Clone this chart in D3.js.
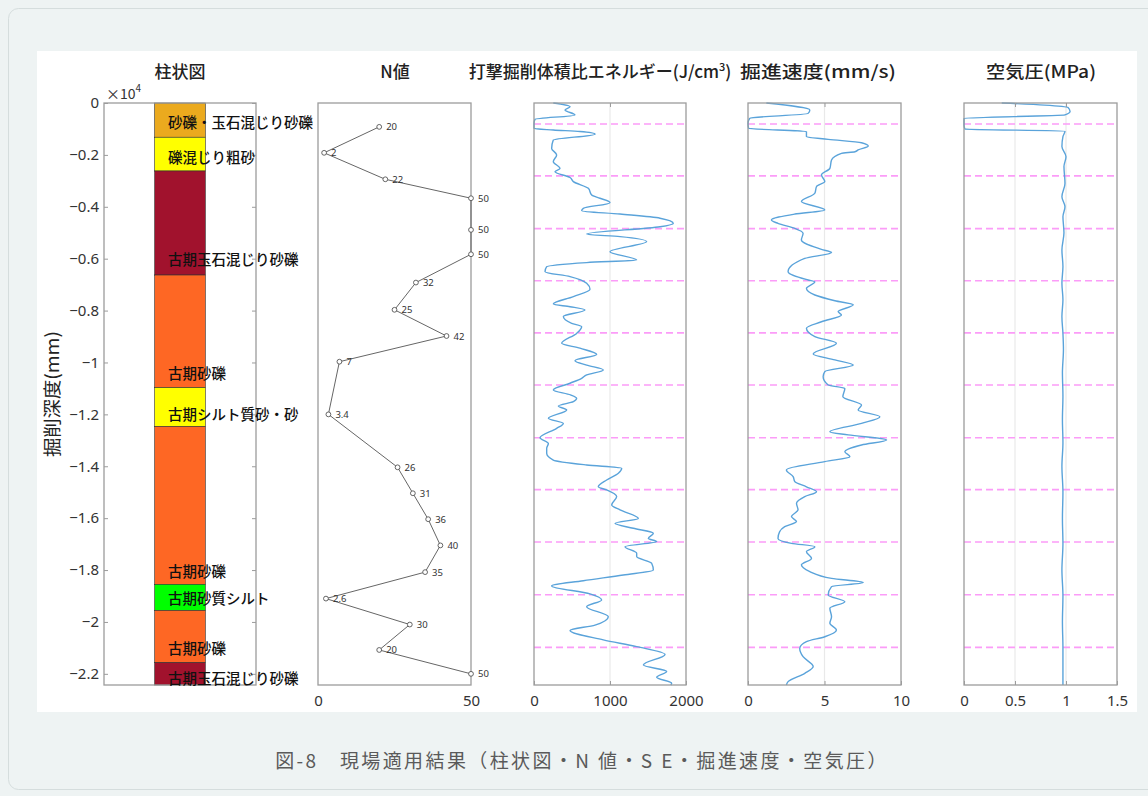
<!DOCTYPE html>
<html>
<head>
<meta charset="utf-8">
<script src="https://cdn.jsdelivr.net/npm/d3@7"></script>
<style>
    body { margin: 0; background: #eef3f3; }
    svg text { font-family: "Noto Sans CJK JP", "Noto Sans", sans-serif; }
</style>
</head>
<body>
<svg id="chart" width="1148" height="796"></svg>
<script>
// depth axis (mm, negative downward)
const depthMin = -22430;
const depthTicks = [0, -2000, -4000, -6000, -8000, -10000, -12000, -14000, -16000, -18000, -20000, -22000];

// 柱状図 layers
const layerNames = ['砂礫・玉石混じり砂礫', '礫混じり粗砂', '古期玉石混じり砂礫', '古期砂礫', '古期シルト質砂・砂',
    '古期砂礫', '古期砂質シルト', '古期砂礫', '古期玉石混じり砂礫'];
const layerBottoms = [-1320, -2620, -6630, -10970, -12470, -18550, -19560, -21570, -22430];
const layerColors = ['#ebaa1e', '#ffff00', '#a1122d', '#fe6724', '#ffff00', '#fe6724', '#00ff00', '#fe6724', '#a1122d'];
const layerLabelDepths = [-720, -2070, -6010, -10400, -11950, -18000, -19040, -21000, -22160];

// N値
const nDepth = [-920, -1920, -2940, -3670, -4890, -5830, -6920, -7970, -8980, -9970,
    -12000, -14040, -15040, -16040, -17050, -18080, -19100, -20100, -21080, -22000];
const nValue = [20, 2, 22, 50, 50, 50, 32, 25, 42, 7, 3.4, 26, 31, 36, 40, 35, 2.6, 30, 20, 50];
const nLabels = ['20', '2', '22', '50', '50', '50', '32', '25', '42', '7', '3.4', '26', '31', '36', '40', '35', '2.6', '30', '20', '50'];

// 打撃掘削体積比エネルギー (J/cm3)
const seDepth = [0, -140, -270, -460, -630, -780, -980, -1040, -1100, -1200, -1430, -1750, -2000, -2260, -2520,
    -2650, -2870, -3030, -3290, -3550, -3670, -3840, -4060, -4150, -4280, -4440, -4640, -4770, -5050, -5150,
    -5340, -5730, -6050, -6150, -6310, -6500, -6690, -6950, -7180, -7460, -7750, -7850, -7980, -8230, -8490,
    -8620, -8880, -9260, -9450, -9690, -9930, -10100, -10290, -10480, -10610, -10800, -11060, -11250, -11380,
    -11510, -11680, -11830, -12150, -12350, -12540, -12900, -13120, -13310, -13500, -13760, -13950, -14080,
    -14270, -14530, -14790, -14910, -15170, -15490, -15680, -16010, -16200, -16390, -16580, -16780, -16900,
    -17100, -17350, -17480, -17740, -18000, -18190, -18410, -18610, -18920, -19150, -19410, -19800, -20120,
    -20330, -20690, -20950, -21250, -21660, -21910, -22130, -22360, -22430];
const seValue = [254, 474, 408, 539, 13, 0, 0, 254, 605, 803, 254, 232, 298, 254, 342,
    276, 474, 518, 715, 759, 868, 1000, 649, 627, 1132, 1658, 1833, 1658, 693, 1132,
    1482, 1000, 1351, 693, 167, 145, 474, 693, 737, 518, 254, 474, 671, 386, 496,
    627, 561, 364, 605, 825, 539, 693, 912, 693, 627, 474, 254, 480, 561,
    518, 320, 430, 189, 386, 298, 79, 189, 167, 167, 254, 693, 1154,
    1110, 956, 846, 956, 1088, 1022, 1132, 1373, 1066, 1307, 1570, 1504, 1614,
    1197, 1351, 1351, 1548, 1570, 1175, 649, 232, 737, 890, 693, 978, 803,
    474, 912, 1351, 1724, 1439, 1746, 1614, 1811, 1800];

// 掘進速度 (mm/s)
const spDepth = [0, -270, -400, -590, -780, -980, -1100, -1300, -1400, -1530, -1660, -1810, -1880, -1940, -2200,
    -2520, -2770, -3030, -3220, -3480, -3800, -4120, -4280, -4510, -4640, -4830, -5020, -5280, -5640, -5760,
    -5990, -6500, -6820, -6890, -7140, -7400, -7620, -7780, -8040, -8170, -8430, -8680, -9000, -9260, -9670,
    -9900, -10100, -10350, -10550, -10870, -11000, -11320, -11640, -11830, -12090, -12350, -12670, -12790,
    -12990, -13180, -13440, -13630, -13820, -14140, -14400, -14590, -14790, -14980, -15170, -15430, -15680,
    -15940, -16130, -16330, -16520, -16780, -16970, -17100, -17290, -17550, -17800, -18060, -18320, -18480,
    -18640, -18960, -19220, -19470, -19800, -20050, -20310, -20570, -20760, -21020, -21340, -21720, -21980,
    -22300, -22430];
const spValue = [1.2, 4.04, 3.93, 0.11, 0, 0.04, 3.82, 3.82, 5.24, 7.42, 7.86, 7.2, 6.99, 6.11, 5.46,
    5.35, 4.8, 5.02, 4.48, 4.37, 3.49, 5.02, 3.06, 1.53, 1.96, 3.06, 3.6, 3.49, 4.8, 5.46,
    3.71, 2.62, 3.93, 4.37, 3.82, 4.37, 5.68, 6.88, 5.89, 6.11, 4.8, 3.82, 4.37, 5.78, 4.26,
    5.68, 6.88, 5.02, 4.91, 5.24, 6.33, 6.2, 7.42, 7.2, 8.62, 7.42, 5.35, 6.55,
    9.06, 7.42, 6.33, 6.66, 5.02, 2.51, 2.95, 3.06, 3.82, 4.48, 3.71, 3.17, 3.27,
    2.84, 3.17, 2.4, 2.07, 1.96, 2.84, 4.37, 3.82, 4.15, 3.49, 4.04, 5.46, 7.53,
    5.46, 5.24, 6.33, 5.35, 5.46, 5.35, 5.78, 5.02, 3.82, 3.38, 3.6, 4.26, 3.71,
    2.62, 2.51];

// 空気圧 (MPa)
const apDepth = [0, -80, -170, -330, -460, -590, -850, -1010, -1080, -1300, -1680, -2070, -2450, -3100, -3610,
    -4000, -4380, -5000, -5670, -6300, -6950, -7580, -8230, -8880, -9500, -10400, -11300, -12200, -13100,
    -14000, -15000, -16000, -17000, -18000, -19000, -20000, -21000, -22000, -22430];
const apValue = [0.37, 0.79, 1.02, 1.04, 0.99, 0, 0, 0.01, 0.99, 0.97, 0.96, 1.0, 0.98, 0.99, 0.96,
    0.99, 0.97, 0.98, 0.96, 0.97, 0.96, 0.97, 0.96, 0.97, 0.975, 0.965, 0.97, 0.965, 0.97,
    0.96, 0.97, 0.965, 0.97, 0.96, 0.97, 0.965, 0.97, 0.97, 0.97];

// rod joints (magenta dashed)
const jointDepths = [-810, -2810, -4840, -6850, -8860, -10870, -12900, -14900, -16920, -18950, -20980];

const caption = '図-8　現場適用結果（柱状図・N 値・S E・掘進速度・空気圧）';

const svg = d3.select('#chart');
const plotTop = 103, plotBottom = 685;
const frameColor = '#9c9c9c';
const lineBlue = '#5aa3da';

// background card + white figure
svg.append('rect')
    .attr('x', 8.5).attr('y', 8.5).attr('width', 1160).attr('height', 781).attr('rx', 10)
    .attr('fill', '#eef3f3').attr('stroke', '#d5dddd');
svg.append('rect')
    .attr('x', 37).attr('y', 51).attr('width', 1100).attr('height', 661)
    .attr('fill', '#fff');

const y = d3.scaleLinear().domain([0, depthMin]).range([plotTop, plotBottom]);

function drawFrame(x0, x1) {
    svg.append('rect')
        .attr('x', x0).attr('y', plotTop).attr('width', x1 - x0).attr('height', plotBottom - plotTop)
        .attr('fill', 'none').attr('stroke', frameColor).attr('stroke-width', 1.3);
}

function title(text, cx, len) {
    const t = svg.append('text')
        .attr('x', cx).attr('y', 78)
        .attr('text-anchor', 'middle')
        .attr('font-size', 17).attr('font-weight', 500).attr('fill', '#222')
        .text(text);
    if (len) t.attr('textLength', len).attr('lengthAdjust', 'spacingAndGlyphs');
    return t;
}

function styleAxis(g) {
    g.select('.domain').remove();
    g.selectAll('line').attr('stroke', frameColor);
    g.selectAll('text').attr('font-size', 15).attr('fill', '#333')
        .style('font-family', '"Noto Sans", sans-serif');
}

// ---------- 柱状図 ----------
const xCol = d3.scaleLinear().domain([0, 3]).range([104, 256]);
const layerTops = [0].concat(layerBottoms.slice(0, -1));
svg.append('g').selectAll('rect')
    .data(layerNames)
    .enter()
    .append('rect')
    .attr('x', xCol(1))
    .attr('y', (d, i) => y(layerTops[i]))
    .attr('width', xCol(2) - xCol(1))
    .attr('height', (d, i) => y(layerBottoms[i]) - y(layerTops[i]))
    .attr('fill', (d, i) => layerColors[i])
    .attr('stroke', '#333')
    .attr('stroke-width', 0.6);
drawFrame(104, 256);

const fmtDepth = d3.format('.1~f');
svg.append('g')
    .attr('transform', 'translate(104,0)')
    .call(d3.axisLeft(y).tickValues(depthTicks).tickSize(-4).tickPadding(5)
        .tickFormat(d => d === 0 ? '0' : fmtDepth(d / 1e4)))
    .call(styleAxis);
svg.append('g')
    .attr('transform', 'translate(256,0)')
    .call(d3.axisRight(y).tickValues(depthTicks).tickSize(-4).tickFormat(''))
    .call(styleAxis);

const xLabel = svg.append('text')
    .attr('x', 106).attr('y', 99)
    .attr('font-size', 14).attr('fill', '#333');
xLabel.append('tspan').text('×10');
xLabel.append('tspan').attr('font-size', 10).attr('dy', -7).text('4');

svg.append('text')
    .attr('transform', 'translate(59,394) rotate(-90)')
    .attr('text-anchor', 'middle')
    .attr('font-size', 18).attr('fill', '#222')
    .attr('textLength', 126).attr('lengthAdjust', 'spacingAndGlyphs')
    .text('掘削深度(mm)');

svg.append('g').selectAll('text')
    .data(layerNames)
    .enter()
    .append('text')
    .attr('x', 168)
    .attr('y', (d, i) => y(layerLabelDepths[i]))
    .attr('dominant-baseline', 'central')
    .attr('font-size', 14.5).attr('font-weight', 500).attr('fill', '#111')
    .text(d => d);

title('柱状図', 180);

// ---------- N値 ----------
const xN = d3.scaleLinear().domain([0, 50]).range([318, 471]);
drawFrame(318, 471);
svg.append('g')
    .attr('transform', `translate(0,${plotBottom})`)
    .call(d3.axisBottom(xN).tickValues([0, 50]).tickSize(0).tickPadding(10).tickFormat(d3.format('~g')))
    .call(styleAxis);

const nPts = d3.zip(nDepth, nValue);
svg.append('path')
    .datum(nPts)
    .attr('fill', 'none')
    .attr('stroke', '#666')
    .attr('stroke-width', 1)
    .attr('d', d3.line().x(d => xN(d[1])).y(d => y(d[0])));
svg.append('g').selectAll('circle')
    .data(nPts)
    .enter()
    .append('circle')
    .attr('cx', d => xN(d[1]))
    .attr('cy', d => y(d[0]))
    .attr('r', 2.4)
    .attr('fill', '#fff')
    .attr('stroke', '#555')
    .attr('stroke-width', 0.9);
svg.append('g').selectAll('text')
    .data(nPts)
    .enter()
    .append('text')
    .attr('x', d => xN(d[1]) + 7)
    .attr('y', d => y(d[0]))
    .attr('dominant-baseline', 'central')
    .attr('font-size', 9.5).attr('fill', '#333')
    .style('font-family', '"Noto Sans", sans-serif')
    .text((d, i) => nLabels[i]);

title('N値', 395);

// ---------- log panels ----------
function logPanel(x0, x1, domain, ticks, depths, values) {
    const x = d3.scaleLinear().domain(domain).range([x0, x1]);
    const inner = ticks.slice(1, -1);
    svg.append('g').selectAll('line')
        .data(inner)
        .enter()
        .append('line')
        .attr('x1', d => x(d)).attr('x2', d => x(d))
        .attr('y1', plotTop).attr('y2', plotBottom)
        .attr('stroke', '#e9e9e9').attr('stroke-width', 1.2);
    svg.append('g').selectAll('line')
        .data(jointDepths)
        .enter()
        .append('line')
        .attr('x1', x0).attr('x2', x1)
        .attr('y1', d => y(d)).attr('y2', d => y(d))
        .attr('stroke', '#fb9cf8')
        .attr('stroke-width', 1.6)
        .attr('stroke-dasharray', '7,4');
    svg.append('path')
        .datum(d3.zip(depths, values))
        .attr('fill', 'none')
        .attr('stroke', lineBlue)
        .attr('stroke-width', 1.4)
        .attr('d', d3.line().x(d => x(d[1])).y(d => y(d[0])).curve(d3.curveMonotoneY));
    drawFrame(x0, x1);
    svg.append('g')
        .attr('transform', `translate(0,${plotBottom})`)
        .call(d3.axisBottom(x).tickValues(ticks).tickSize(-4).tickPadding(10).tickFormat(d3.format('~g')))
        .call(styleAxis);
    svg.append('g')
        .attr('transform', `translate(0,${plotTop})`)
        .call(d3.axisTop(x).tickValues(inner).tickSize(-4).tickFormat(''))
        .call(styleAxis);
}

logPanel(534, 686, [0, 2000], [0, 1000, 2000], seDepth, seValue);
logPanel(748, 901, [0, 10], [0, 5, 10], spDepth, spValue);
logPanel(964, 1117, [0, 1.5], [0, 0.5, 1, 1.5], apDepth, apValue);

const seTitle = title('打撃掘削体積比エネルギー(J/cm', 600);
seTitle.append('tspan').attr('font-size', 11).attr('dy', -7).text('3');
seTitle.append('tspan').attr('dy', 7).text(')');
title('掘進速度(mm/s)', 818, 156);
title('空気圧(MPa)', 1041, 110);

// caption
svg.append('text')
    .attr('x', 582).attr('y', 768)
    .attr('text-anchor', 'middle')
    .attr('font-size', 19).attr('letter-spacing', 2.4)
    .attr('fill', '#5a5a5a')
    .text(caption);
</script>
</body>
</html>
